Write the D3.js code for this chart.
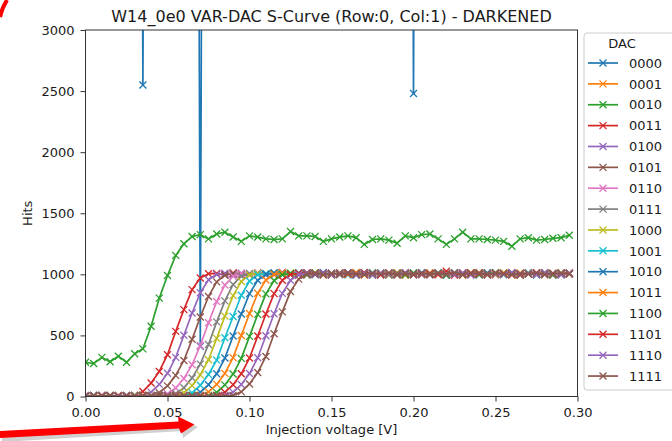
<!DOCTYPE html>
<html>
<head>
<meta charset="utf-8">
<script src="https://cdn.jsdelivr.net/npm/d3@7"></script>
<style>
    html, body { margin: 0; padding: 0; background: #fff; }
    svg { display: block; font-family: "DejaVu Sans", sans-serif; }
</style>
</head>
<body>
<svg id="graph" width="672" height="441"></svg>
<script>
const chart_title = "W14_0e0 VAR-DAC S-Curve (Row:0, Col:1) - DARKENED";
const x_label = "Injection voltage [V]";
const y_label = "Hits";
const legend_title = "DAC";

const x_ticks = [0.00, 0.05, 0.10, 0.15, 0.20, 0.25, 0.30];
const y_ticks = [0, 500, 1000, 1500, 2000, 2500, 3000];

const voltages = [
    0.000, 0.005, 0.010, 0.015, 0.020, 0.025, 0.030, 0.035, 0.040, 0.045,
    0.050, 0.055, 0.060, 0.065, 0.070, 0.075, 0.080, 0.085, 0.090, 0.095,
    0.100, 0.105, 0.110, 0.115, 0.120, 0.125, 0.130, 0.135, 0.140, 0.145,
    0.150, 0.155, 0.160, 0.165, 0.170, 0.175, 0.180, 0.185, 0.190, 0.195,
    0.200, 0.205, 0.210, 0.215, 0.220, 0.225, 0.230, 0.235, 0.240, 0.245,
    0.250, 0.255, 0.260, 0.265, 0.270, 0.275, 0.280, 0.285, 0.290, 0.295
];

const dac_codes = ["0000", "0001", "0010", "0011", "0100", "0101", "0110", "0111",
    "1000", "1001", "1010", "1011", "1100", "1101", "1110", "1111"];

// 0000 and 0001 are saturated (off the top of the plot) except a few samples
const hits_0000 = [
    20000, 20000, 20000, 20000, 20000, 20000, 20000, 2550, 20000, 20000,
    20000, 20000, 20000, 20000, 410, 20000, 20000, 20000, 20000, 20000,
    20000, 20000, 20000, 20000, 20000, 20000, 20000, 20000, 20000, 20000,
    20000, 20000, 20000, 20000, 20000, 20000, 20000, 20000, 20000, 20000,
    2480, 20000, 20000, 20000, 20000, 20000, 20000, 20000, 20000, 20000,
    20000, 20000, 20000, 20000, 20000, 20000, 20000, 20000, 20000, 20000
];
const hits_0001 = [
    26000, 26000, 26000, 26000, 26000, 26000, 26000, 26000, 26000, 26000,
    26000, 26000, 26000, 26000, 26000, 26000, 26000, 26000, 26000, 26000,
    26000, 26000, 26000, 26000, 26000, 26000, 26000, 26000, 26000, 26000,
    26000, 26000, 26000, 26000, 26000, 26000, 26000, 26000, 26000, 26000,
    26000, 26000, 26000, 26000, 26000, 26000, 26000, 26000, 26000, 26000,
    26000, 26000, 26000, 26000, 26000, 26000, 26000, 26000, 26000, 26000
];
const hits_0010 = [
    280, 270, 320, 285, 330, 280, 350, 390, 575, 805,
    990, 1155, 1250, 1310, 1325, 1290, 1330, 1345, 1305, 1270,
    1315, 1305, 1290, 1285, 1290, 1350, 1315, 1315, 1310, 1270,
    1290, 1305, 1315, 1300, 1245, 1285, 1290, 1280, 1255, 1315,
    1300, 1325, 1330, 1290, 1245, 1290, 1345, 1290, 1290, 1285,
    1280, 1270, 1230, 1290, 1300, 1280, 1285, 1295, 1300, 1320
];
const hits_0011 = [
    4, 9, 2, 7, 1, 3, 10, 41, 110, 205,
    342, 533, 711, 875, 970, 1005, 1008, 996, 1012, 1001,
    994, 1010, 1003, 998, 1015, 1002, 995, 1009, 1004, 1011,
    997, 1006, 1000, 1013, 996, 1005, 1003, 999, 1007, 994,
    1010, 1002, 1006, 997, 1012, 1001, 995, 1008, 1003, 1011,
    998, 1004, 1009, 996, 1007, 1002, 1013, 999, 1005, 1010
];
const hits_0100 = [
    3, 7, 1, 5, 2, 6, 3, 9, 36, 99,
    190, 320, 502, 683, 849, 955, 999, 1009, 997, 1010,
    1003, 1008, 995, 1012, 1001, 1006, 998, 1011, 1004, 996,
    1009, 1002, 1013, 999, 1005, 994, 1010, 1003, 1007, 1000,
    1012, 997, 1006, 1001, 1009, 995, 1011, 1004, 998, 1008,
    1002, 1010, 996, 1005, 1012, 999, 1007, 1003, 994, 1009
];
const hits_0101 = [
    5, 1, 8, 2, 6, 0, 4, 2, 8, 31,
    87, 173, 295, 468, 651, 819, 938, 993, 1008, 1002,
    995, 1011, 1006, 999, 1013, 1004, 997, 1009, 1001, 1007,
    994, 1012, 1003, 998, 1010, 1005, 1000, 1008, 996, 1014,
    1002, 1006, 999, 1011, 995, 1004, 1009, 1001, 1013, 997,
    1006, 1003, 1010, 998, 1007, 1002, 1012, 996, 1005, 1009
];
const hits_0110 = [
    2, 6, 0, 9, 3, 5, 1, 7, 1, 6,
    22, 69, 148, 260, 418, 604, 777, 913, 984, 1007,
    999, 1010, 1004, 996, 1012, 1001, 1008, 995, 1006, 1013,
    998, 1003, 1009, 1000, 1011, 994, 1007, 1002, 1010, 997,
    1005, 1012, 999, 1008, 1003, 996, 1011, 1001, 1006, 1009,
    995, 1004, 1013, 998, 1007, 1002, 1010, 997, 1005, 1008
];
const hits_0111 = [
    6, 2, 8, 1, 4, 7, 0, 5, 3, 1,
    6, 24, 71, 152, 265, 426, 611, 783, 917, 985,
    1007, 1003, 997, 1011, 1005, 1000, 1012, 995, 1008, 1002,
    1010, 996, 1006, 1013, 999, 1004, 1009, 994, 1011, 1001,
    1007, 998, 1012, 1003, 996, 1010, 1005, 1000, 1008, 995,
    1013, 1002, 1006, 999, 1011, 1004, 997, 1009, 1001, 1006
];
const hits_1000 = [
    1, 5, 3, 8, 0, 6, 2, 9, 4, 1,
    2, 8, 32, 89, 177, 301, 476, 658, 826, 942,
    995, 1008, 1001, 1009, 996, 1012, 1004, 999, 1010, 1006,
    995, 1011, 1002, 1008, 997, 1013, 1003, 1000, 1009, 994,
    1007, 1012, 998, 1005, 1010, 1001, 996, 1011, 1004, 1008,
    999, 1013, 1002, 995, 1006, 1010, 1003, 997, 1009, 1005
];
const hits_1001 = [
    4, 0, 7, 3, 9, 1, 5, 2, 8, 3,
    6, 2, 7, 30, 92, 180, 298, 481, 655, 829,
    945, 996, 1006, 1010, 998, 1005, 1012, 1001, 996, 1009,
    1003, 1011, 995, 1007, 1002, 1013, 999, 1006, 1010, 994,
    1004, 1011, 1000, 1008, 997, 1012, 1003, 1006, 999, 1010,
    1005, 996, 1013, 1001, 1008, 995, 1011, 1004, 1000, 1009
];
const hits_1010 = [
    3, 8, 1, 5, 0, 7, 2, 6, 4, 9,
    1, 5, 2, 9, 35, 96, 186, 315, 495, 675,
    842, 951, 998, 1009, 1003, 996, 1011, 1006, 1000, 1013,
    998, 1005, 1009, 994, 1012, 1002, 1007, 999, 1010, 1004,
    996, 1013, 1001, 1008, 995, 1011, 1003, 1006, 998, 1012,
    1000, 1009, 1005, 997, 1010, 1002, 1007, 995, 1012, 1004
];
const hits_1011 = [
    7, 2, 5, 0, 8, 3, 6, 1, 9, 4,
    2, 7, 3, 3, 10, 37, 99, 189, 318, 499,
    679, 845, 953, 999, 1010, 998, 1008, 1002, 1012, 995,
    1006, 1010, 1001, 1013, 997, 1004, 1009, 999, 1011, 994,
    1007, 1003, 1012, 1000, 1006, 996, 1010, 1005, 1013, 998,
    1002, 1009, 995, 1011, 1004, 1000, 1008, 997, 1012, 1003
];
const hits_1100 = [
    0, 6, 3, 9, 1, 5, 8, 2, 4, 7,
    0, 6, 3, 8, 2, 8, 34, 95, 184, 312,
    492, 672, 840, 950, 997, 1008, 1005, 999, 1012, 1003,
    996, 1010, 1007, 1001, 1013, 995, 1009, 1002, 1006, 998,
    1011, 1004, 1000, 1012, 994, 1008, 1003, 1010, 997, 1006,
    1013, 1001, 1005, 996, 1011, 1002, 1009, 999, 1007, 1004
];
const hits_1101 = [
    5, 1, 9, 4, 7, 0, 3, 8, 2, 6,
    1, 9, 5, 0, 4, 2, 9, 35, 96, 186,
    315, 495, 675, 842, 951, 998, 1009, 1012, 1001, 1008,
    996, 1010, 1004, 999, 1013, 1006, 995, 1011, 1002, 1009,
    997, 1003, 1005, 1000, 1026, 994, 1007, 1012, 1003, 998,
    1009, 1005, 1011, 996, 1004, 1013, 1000, 1008, 1002, 1010
];
const hits_1110 = [
    8, 3, 6, 0, 5, 9, 2, 7, 4, 1,
    8, 3, 6, 0, 5, 2, 3, 10, 36, 98,
    188, 317, 497, 677, 844, 952, 998, 1009, 1002, 1010,
    997, 1006, 1012, 1000, 1008, 995, 1011, 1004, 999, 1013,
    1003, 1007, 996, 1010, 1005, 1001, 1012, 994, 1009, 1003,
    1006, 998, 1011, 1002, 1008, 996, 1013, 1004, 1000, 1007
];
const hits_1111 = [
    2, 7, 4, 9, 1, 6, 3, 8, 0, 5,
    7, 2, 9, 4, 6, 1, 8, 3, 9, 38,
    103, 196, 328, 514, 693, 859, 961, 1002, 1010, 996,
    1007, 1001, 1011, 1004, 998, 1009, 1002, 1012, 995, 1006,
    1003, 1010, 999, 1008, 1001, 1013, 997, 1005, 1009, 1000,
    1011, 1004, 996, 1008, 1002, 1012, 998, 1006, 1010, 1003
];

const hits = [hits_0000, hits_0001, hits_0010, hits_0011, hits_0100, hits_0101, hits_0110, hits_0111,
    hits_1000, hits_1001, hits_1010, hits_1011, hits_1100, hits_1101, hits_1110, hits_1111];

const colors = ["#1f77b4", "#ff7f0e", "#2ca02c", "#d62728", "#9467bd",
    "#8c564b", "#e377c2", "#7f7f7f", "#bcbd22", "#17becf"];   // matplotlib tab10 cycle

(function (d3) {
    'use strict';

    const svg = d3.select("#graph");
    const text_color = "#1a1a1a";

    const left = 85.5, right = 577.5, top = 30, bottom = 396.5;

    const x = d3.scaleLinear().domain([0, 0.3]).range([left, right]);
    const y = d3.scaleLinear().domain([0, 3000]).range([bottom, top]);

    svg.append("defs").append("clipPath")
        .attr("id", "plot-area")
        .append("rect")
        .attr("x", left)
        .attr("y", top)
        .attr("width", right - left)
        .attr("height", bottom - top);

    // axes
    const x_axis = svg.append("g")
        .attr("transform", `translate(0,${bottom})`)
        .call(d3.axisBottom(x).tickValues(x_ticks).tickFormat(d3.format(".2f")).tickSize(5).tickPadding(6));

    const y_axis = svg.append("g")
        .attr("transform", `translate(${left},0)`)
        .call(d3.axisLeft(y).tickValues(y_ticks).tickFormat(d3.format("d")).tickSize(5).tickPadding(6));

    [x_axis, y_axis].forEach(axis => {
        axis.select(".domain").remove();
        axis.selectAll(".tick line").attr("stroke", "#333").attr("stroke-width", 1);
        axis.selectAll(".tick text")
            .attr("fill", text_color)
            .style("font-size", "13px")
            .style("font-family", "DejaVu Sans");
    });

    // series: line + 'x' markers, drawn in legend order
    const line = d3.line()
        .x((d, i) => x(voltages[i]))
        .y(d => y(d));

    const plot = svg.append("g").attr("clip-path", "url(#plot-area)");
    const cross = "M-3.5,-3.5L3.5,3.5M-3.5,3.5L3.5,-3.5";

    hits.forEach((series, k) => {
        const color = colors[k % colors.length];
        const g = plot.append("g");
        g.append("path")
            .datum(series)
            .attr("d", line)
            .attr("fill", "none")
            .attr("stroke", color)
            .attr("stroke-width", 1.7)
            .attr("stroke-linejoin", "round");
        g.selectAll(".marker")
            .data(series)
            .enter()
            .append("path")
            .attr("class", "marker")
            .attr("d", cross)
            .attr("transform", (d, i) => `translate(${x(voltages[i])},${y(d)})`)
            .attr("fill", "none")
            .attr("stroke", color)
            .attr("stroke-width", 1.3);
    });

    // spines
    svg.append("rect")
        .attr("x", left)
        .attr("y", top)
        .attr("width", right - left)
        .attr("height", bottom - top)
        .attr("fill", "none")
        .attr("stroke", "#333")
        .attr("stroke-width", 1);

    // labels
    svg.append("text")
        .attr("x", (left + right) / 2)
        .attr("y", 22)
        .attr("text-anchor", "middle")
        .attr("fill", text_color)
        .style("font-size", "16px")
        .text(chart_title);

    svg.append("text")
        .attr("x", (left + right) / 2)
        .attr("y", 434)
        .attr("text-anchor", "middle")
        .attr("fill", text_color)
        .style("font-size", "13px")
        .text(x_label);

    svg.append("text")
        .attr("transform", `translate(32,${(top + bottom) / 2}) rotate(-90)`)
        .attr("text-anchor", "middle")
        .attr("fill", text_color)
        .style("font-size", "13px")
        .text(y_label);

    // legend
    const legend = svg.append("g").attr("transform", "translate(584,33)");
    legend.append("rect")
        .attr("width", 96)
        .attr("height", 357)
        .attr("rx", 3)
        .attr("fill", "#fff")
        .attr("fill-opacity", 0.8)
        .attr("stroke", "#ccc")
        .attr("stroke-width", 1);

    legend.append("text")
        .attr("x", 38)
        .attr("y", 15)
        .attr("text-anchor", "middle")
        .attr("fill", text_color)
        .style("font-size", "13px")
        .text(legend_title);

    const entry = legend.selectAll(".entry")
        .data(dac_codes)
        .enter()
        .append("g")
        .attr("class", "entry")
        .attr("transform", (d, i) => `translate(0,${30 + i * 20.87})`);

    entry.append("line")
        .attr("x1", 4)
        .attr("x2", 34)
        .attr("stroke", (d, i) => colors[i % colors.length])
        .attr("stroke-width", 1.7);
    entry.append("path")
        .attr("d", cross)
        .attr("transform", "translate(19,0)")
        .attr("fill", "none")
        .attr("stroke", (d, i) => colors[i % colors.length])
        .attr("stroke-width", 1.3);
    entry.append("text")
        .attr("x", 45)
        .attr("dy", "0.36em")
        .attr("fill", text_color)
        .style("font-size", "13px")
        .text(d => d);

    // red hand-drawn annotations on the screenshot
    const marks = svg.append("g");
    marks.append("path")
        .attr("d", "M2,442 L182,431 L183,438 L198,427 L180,419 L181,425 L2,436 Z")
        .attr("fill", "#777")
        .attr("opacity", 0.35);
    marks.append("path")
        .attr("d", "M0,438 L179,428.5 L181,433.5 L194.5,424.5 L178,416.5 L178.5,421.5 L0,431 Z")
        .attr("fill", "#f00");
    marks.append("path")
        .attr("d", "M0,17 Q2,8 7,0")
        .attr("fill", "none")
        .attr("stroke", "#f00")
        .attr("stroke-width", 4);

}(d3));
</script>
</body>
</html>
